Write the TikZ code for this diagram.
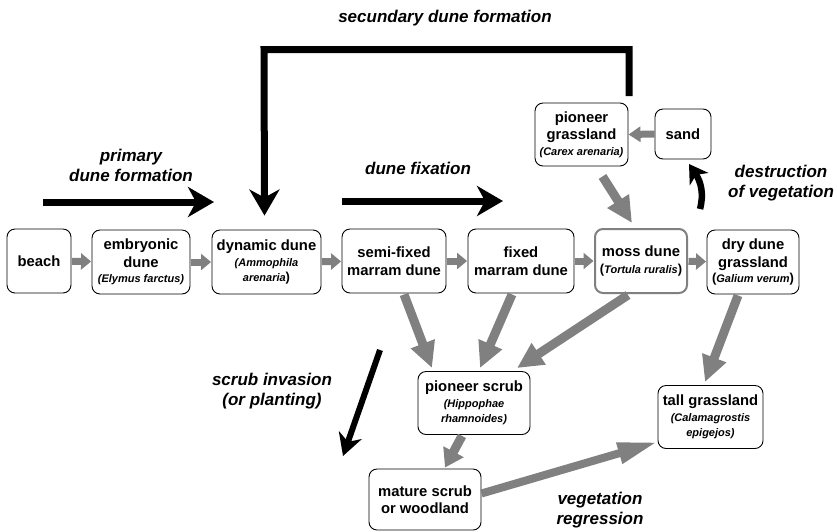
\documentclass[tikz,border=0pt]{standalone}
\usepackage{fontspec}
\setmainfont{Liberation Sans}
\usetikzlibrary{arrows.meta,calc}
\definecolor{arrgray}{RGB}{128,128,128}
\newcommand\spec[1]{{\fontsize{11}{13}\selectfont\itshape #1}}
\newcommand\upar[1]{{\fontsize{13}{13}\selectfont #1}}
\begin{document}
\begin{tikzpicture}[x=1pt,y=-1pt,
  box/.style={draw, rounded corners=8pt, line width=0.9pt, align=center, inner sep=0pt,
    font=\bfseries\fontsize{14.8}{17.5}\selectfont},
  lab/.style={align=center, font=\bfseries\itshape\fontsize{17}{20}\selectfont},
  rowarrow/.style={draw=arrgray, line width=7pt, -{Triangle[width=16pt,length=10pt]}, shorten <=0.5pt, shorten >=0.5pt},
  grayarrow/.style={draw=arrgray, line width=9pt, -{Triangle[width=24pt,length=26pt]}},
  blackarrow/.style={draw=black, line width=7pt, -{Stealth[width=30pt,length=26pt,inset=8pt]}}
]
\useasboundingbox (0,0) rectangle (837,531);

% main row
\node[box, minimum width=64pt, minimum height=64pt] (beach) at (39,261) {beach};
\node[box, minimum width=98pt, minimum height=64pt] (embr) at (141,262) {embryonic\\dune\\[-2pt]\spec{(Elymus farctus)}};
\node[box, minimum width=109pt, minimum height=64pt] (dyn) at (266.5,262) {dynamic dune\\[-2pt]\spec{(Ammophila}\\[-2pt]\spec{arenaria}\upar{)}};
\node[box, minimum width=104pt, minimum height=64pt] (semi) at (394,261) {semi-fixed\\marram dune};
\node[box, minimum width=106pt, minimum height=64pt] (fixed) at (521,261) {fixed\\marram dune};
\node[box, draw=arrgray, line width=2pt, minimum width=92pt, minimum height=64pt] (moss) at (641,261) {moss dune\\[-1pt]\upar{(}\spec{Tortula ruralis}\upar{)}};
\node[box, minimum width=92pt, minimum height=64pt] (dry) at (753,262) {dry dune\\grassland\\[-2pt]\upar{(}\spec{Galium verum}\upar{)}};

% upper boxes
\node[box, minimum width=93pt, minimum height=63pt] (pgrass) at (581.5,134.5) {pioneer\\grassland\\[-2pt]\spec{(Carex arenaria)}};
\node[box, minimum width=56pt, minimum height=50pt] (sand) at (683,134) {sand};

% lower boxes
\node[box, minimum width=112pt, minimum height=63pt] (pscrub) at (474,403) {pioneer scrub\\[-2pt]\spec{(Hippophae}\\[-2pt]\spec{rhamnoides)}};
\node[box, minimum width=112pt, minimum height=61pt] (mature) at (425,499.5) {mature scrub\\or woodland};
\node[box, minimum width=105pt, minimum height=63pt] (tall) at (710.5,417) {tall grassland\\[-2pt]\spec{(Calamagrostis}\\[-2pt]\spec{epigejos)}};

% row arrows
\draw[rowarrow] (beach) -- (embr);
\draw[rowarrow] (embr) -- (dyn);
\draw[rowarrow] (dyn) -- (semi);
\draw[rowarrow] (semi) -- (fixed);
\draw[rowarrow] (fixed) -- (moss);
\draw[rowarrow] (moss) -- (dry);
\draw[draw=arrgray, line width=7pt, -{Triangle[width=15pt,length=12pt]}] (sand.west) -- (pgrass.east);

% gray diagonal arrows
\draw[grayarrow] ($(pgrass.south)+(21,10)$) -- ($(moss.north)+(-9,-5)$);
\draw[grayarrow] ($(semi.south)+(10,1)$) -- ($(pscrub.north)+(-42,-3)$);
\draw[grayarrow] ($(fixed.south)+(-9,1)$) -- ($(pscrub.north)+(6,-3)$);
\draw[grayarrow] ($(moss.south)+(-13,1)$) -- ($(pscrub.north)+(43,-3)$);
\draw[grayarrow] ($(dry.south)+(-15,1)$) -- ($(tall.north)+(-5.5,-3)$);
\draw[draw=arrgray, line width=9pt, -{Triangle[width=22pt,length=18pt]}] ($(pscrub.south)+(-12,1)$) -- ($(mature.north)+(20,-1)$);
\draw[draw=arrgray, line width=8pt, -{Triangle[width=20pt,length=40pt]}] ($(mature.east)+(0,-6)$) -- ($(tall.west)+(0,25)$);

% black arrows
\coordinate (s1) at (629,96);
\coordinate (s2) at (629,49.5);
\coordinate (s3) at (264,49.5);
\draw[blackarrow] (s1) -- (s2) -- (s3) -- ($(dyn.north)+(-2,-14)$);
\coordinate (p1) at (43,202);
\coordinate (p2) at (214,202);
\draw[blackarrow] (p1) -- (p2);
\coordinate (q1) at (342,201);
\coordinate (q2) at (503,201);
\draw[blackarrow] (q1) -- (q2);
\coordinate (r1) at (380,350);
\coordinate (r2) at (343,456);
\draw[draw=black, line width=6pt, -{Stealth[width=24pt,length=22pt,inset=7pt]}] (r1) -- (r2);
\coordinate (t1) at (700,209);
\coordinate (t2) at (689,164);
\draw[draw=black, line width=6.5pt, -{Stealth[width=22pt,length=18pt,inset=5pt]}] (t1) .. controls (704,194) and (701,182) .. (t2);

% labels
\node[lab] (lsec) at (445,18) {secundary dune formation};
\node[lab] (lprim) at (131,165) {primary\\dune formation};
\node[lab] (lfix) at (418,168) {dune fixation};
\node[lab] (ldest) at (781,183) {destruction\\of vegetation};
\node[lab] (lscrub) at (272,391) {scrub invasion\\(or planting)};
\node[lab] (lveg) at (600,510) {vegetation\\regression};
\end{tikzpicture}
\end{document}
